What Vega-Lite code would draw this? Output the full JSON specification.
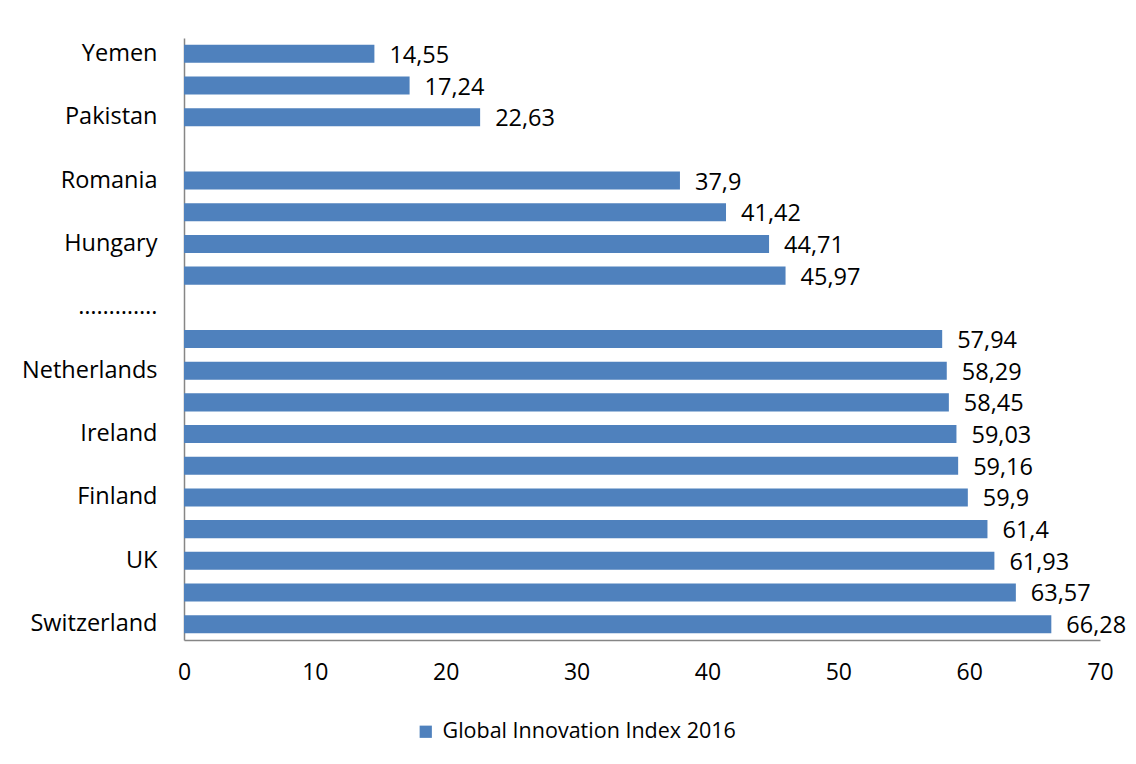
{
  "$schema": "https://vega.github.io/schema/vega-lite/v6.json",
  "width": 916,
  "height": 602,
  "autosize": {"type": "none"},
  "padding": {"left": 184, "top": 38, "right": 36, "bottom": 124},
  "background": "white",
  "data": {
    "values": [
      {"k": "Yemen", "v": 14.55},
      {"k": "_2", "v": 17.24},
      {"k": "Pakistan", "v": 22.63},
      {"k": "_4", "v": null},
      {"k": "Romania", "v": 37.9},
      {"k": "_6", "v": 41.42},
      {"k": "Hungary", "v": 44.71},
      {"k": "_8", "v": 45.97},
      {"k": "………….", "v": null},
      {"k": "_10", "v": 57.94},
      {"k": "Netherlands", "v": 58.29},
      {"k": "_12", "v": 58.45},
      {"k": "Ireland", "v": 59.03},
      {"k": "_14", "v": 59.16},
      {"k": "Finland", "v": 59.9},
      {"k": "_16", "v": 61.4},
      {"k": "UK", "v": 61.93},
      {"k": "_18", "v": 63.57},
      {"k": "Switzerland", "v": 66.28}
    ]
  },
  "encoding": {
    "y": {
      "field": "k",
      "type": "nominal",
      "sort": null,
      "scale": {
        "domain": ["Yemen", "_2", "Pakistan", "_4", "Romania", "_6", "Hungary", "_8", "………….", "_10", "Netherlands", "_12", "Ireland", "_14", "Finland", "_16", "UK", "_18", "Switzerland"],
        "paddingInner": 0.43,
        "paddingOuter": 0.215
      },
      "axis": {
        "title": null,
        "values": ["Yemen", "Pakistan", "Romania", "Hungary", "………….", "Netherlands", "Ireland", "Finland", "UK", "Switzerland"],
        "ticks": false,
        "domainColor": "#868686",
        "domainWidth": 1.5,
        "labelFont": "Open Sans",
        "labelFontSize": 23.5,
        "labelColor": "#000000",
        "labelPadding": 27,
        "labelLimit": 0
      }
    }
  },
  "layer": [
    {
      "mark": {"type": "bar"},
      "encoding": {
        "x": {
          "field": "v",
          "type": "quantitative",
          "scale": {"domain": [0, 70]},
          "axis": {
            "title": null,
            "values": [0, 10, 20, 30, 40, 50, 60, 70],
            "grid": false,
            "ticks": false,
            "domainColor": "#868686",
            "domainWidth": 1.5,
            "labelFont": "Open Sans",
            "labelFontSize": 23,
            "labelColor": "#000000",
            "labelPadding": 21,
            "labelFlush": false
          }
        },
        "color": {
          "datum": "Global Innovation Index 2016",
          "type": "nominal",
          "scale": {"range": ["#4F81BD"]},
          "legend": {
            "title": null,
            "orient": "none",
            "legendX": 231,
            "legendY": 683,
            "symbolType": "square",
            "symbolSize": 150,
            "symbolStrokeWidth": 0,
            "labelFont": "Open Sans",
            "labelFontSize": 21.5,
            "labelColor": "#000000",
            "labelOffset": 6,
            "labelLimit": 0
          }
        }
      }
    },
    {
      "transform": [
        {"filter": "datum.v != null"},
        {"calculate": "replace(toString(datum.v), '.', ',')", "as": "lab"}
      ],
      "mark": {"type": "text", "align": "left", "baseline": "middle", "dx": 15, "dy": 2, "font": "Open Sans", "fontSize": 23.5, "color": "#000000"},
      "encoding": {
        "x": {"field": "v", "type": "quantitative"},
        "text": {"field": "lab"}
      }
    }
  ],
  "config": {"view": {"stroke": null}}
}
